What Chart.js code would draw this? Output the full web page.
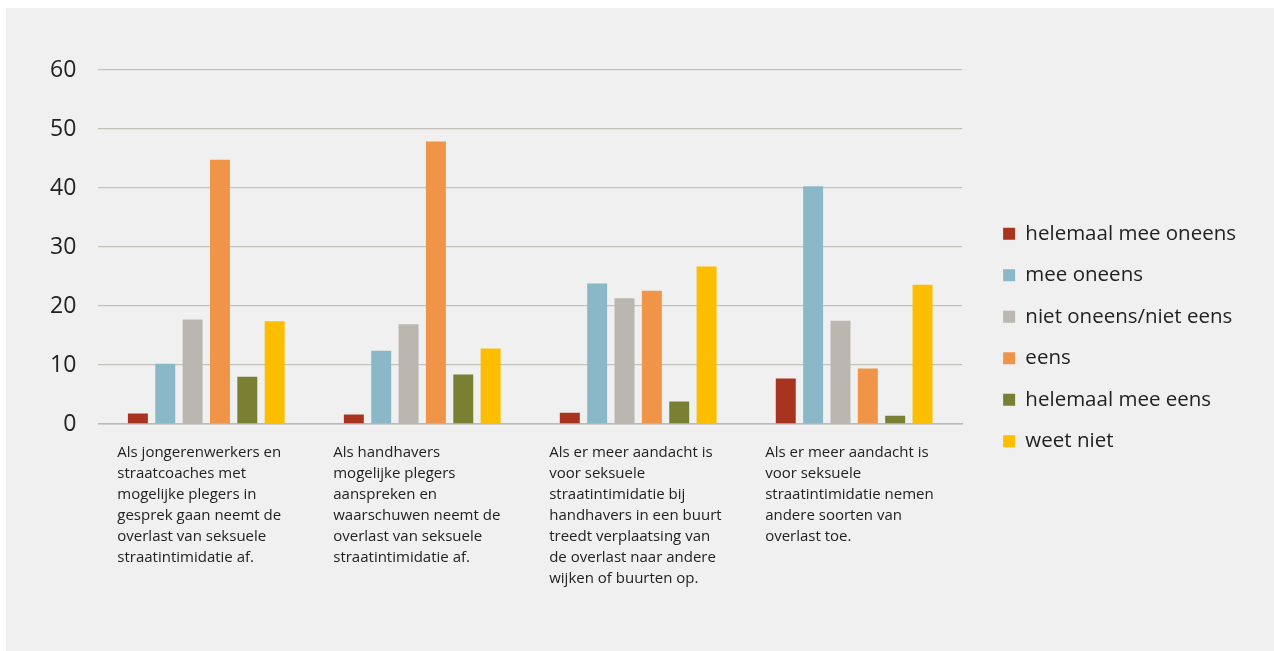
<!DOCTYPE html>
<html lang="nl">
<head>
  <meta charset="UTF-8" />
  <title>Straatintimidatie stellingen</title>
  <script src="https://cdn.jsdelivr.net/npm/chart.js"></script>
  <style>
    body {
      margin: 0;
      background: #ffffff;
    }
    .panel {
      position: absolute;
      left: 6px;
      top: 8px;
      width: 1268px;
      height: 643px;
      background: #f0f0f0;
    }
  </style>
</head>
<body>
  <div class="panel">
    <canvas id="chart" width="1268" height="643"></canvas>
  </div>

  <script>
    const categories = [
      ['Als jongerenwerkers en', 'straatcoaches met', 'mogelijke plegers in', 'gesprek gaan neemt de', 'overlast van seksuele', 'straatintimidatie af.'],
      ['Als handhavers', 'mogelijke plegers', 'aanspreken en', 'waarschuwen neemt de', 'overlast van seksuele', 'straatintimidatie af.'],
      ['Als er meer aandacht is', 'voor seksuele', 'straatintimidatie bij', 'handhavers in een buurt', 'treedt verplaatsing van', 'de overlast naar andere', 'wijken of buurten op.'],
      ['Als er meer aandacht is', 'voor seksuele', 'straatintimidatie nemen', 'andere soorten van', 'overlast toe.']
    ];

    const helemaalOneens = [1.8, 1.6, 1.9, 7.7];
    const meeOneens = [10.2, 12.4, 23.8, 40.3];
    const nietOneensNietEens = [17.7, 16.9, 21.3, 17.5];
    const eens = [44.8, 47.9, 22.6, 9.4];
    const helemaalEens = [8.0, 8.4, 3.8, 1.4];
    const weetNiet = [17.4, 12.8, 26.7, 23.6];

    const yTicks = [0, 10, 20, 30, 40, 50, 60];

    const series = [
      { label: 'helemaal mee oneens', data: helemaalOneens, color: '#a8341f' },
      { label: 'mee oneens', data: meeOneens, color: '#8bb8c9' },
      { label: 'niet oneens/niet eens', data: nietOneensNietEens, color: '#bab7b0' },
      { label: 'eens', data: eens, color: '#f09548' },
      { label: 'helemaal mee eens', data: helemaalEens, color: '#7a8033' },
      { label: 'weet niet', data: weetNiet, color: '#fdbd00' }
    ];

    // push the legend a bit away from the plot area
    const legendGap = {
      id: 'legendGap',
      afterLayout(chart) {
        chart.legend.left += 20;
        chart.legend.right += 20;
        chart.legend.top += 3;
        chart.legend.bottom += 3;
      }
    };

    new Chart(document.getElementById('chart'), {
      type: 'bar',
      data: {
        labels: categories,
        datasets: series.map(s => ({
          label: s.label,
          data: s.data,
          backgroundColor: s.color,
          borderWidth: 0
        }))
      },
      options: {
        responsive: false,
        animation: false,
        datasets: {
          bar: { categoryPercentage: 0.76, barPercentage: 0.73 }
        },
        layout: {
          padding: { top: 62, left: 22, right: 48, bottom: 52 }
        },
        plugins: {
          tooltip: { enabled: false },
          legend: {
            position: 'right',
            labels: {
              boxWidth: 12,
              boxHeight: 12,
              padding: 21,
              color: '#222',
              font: { family: 'Open Sans', size: 20.5 }
            }
          }
        },
        scales: {
          x: {
            grid: { display: false },
            border: { color: '#bcbab3', width: 1.5 },
            ticks: {
              color: '#222',
              align: 'start',
              labelOffset: -89,
              padding: 10,
              maxRotation: 0,
              autoSkip: false,
              font: { family: 'Open Sans', size: 15, lineHeight: 1.4 }
            }
          },
          y: {
            min: 0,
            max: 60,
            afterBuildTicks: axis => { axis.ticks = yTicks.map(v => ({ value: v })); },
            grid: { color: '#c3c1ba', lineWidth: 1.3, drawTicks: false },
            border: { display: false },
            ticks: {
              color: '#222',
              padding: 22,
              font: { family: 'Open Sans', size: 23 }
            }
          }
        }
      },
      plugins: [legendGap]
    });
  </script>
</body>
</html>
